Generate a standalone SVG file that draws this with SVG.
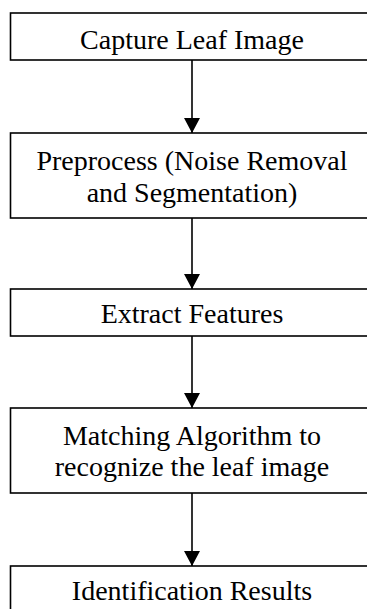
<svg xmlns="http://www.w3.org/2000/svg" width="367" height="609" viewBox="0 0 367 609">
<style>
.box{fill:#fff;stroke:#000;stroke-width:1.6}
.lbl{font-family:"Liberation Serif","Times New Roman",serif;font-size:28px;fill:#000;text-anchor:middle}
.con{stroke:#000;stroke-width:1.6;fill:none}
</style>
<defs>
<marker id="ah" markerUnits="userSpaceOnUse" markerWidth="16" markerHeight="18" refX="15" refY="8" orient="auto" viewBox="0 0 16 16">
<path d="M0,0 L15,8 L0,16 Z" fill="#000"/>
</marker>
</defs>
<g id="connectors">
<line class="con" x1="192" y1="60" x2="192" y2="133" marker-end="url(#ah)"/>
<line class="con" x1="192" y1="218" x2="192" y2="289" marker-end="url(#ah)"/>
<line class="con" x1="192" y1="336" x2="192" y2="408" marker-end="url(#ah)"/>
<line class="con" x1="192" y1="493" x2="192" y2="566" marker-end="url(#ah)"/>
</g>
<g id="n1">
<rect class="box" x="10.5" y="13" width="364" height="47"/>
<text class="lbl" x="192" y="49">Capture Leaf Image</text>
</g>
<g id="n2">
<rect class="box" x="10.5" y="133" width="364" height="85"/>
<text class="lbl" x="192" y="170">Preprocess (Noise Removal</text>
<text class="lbl" x="192" y="202">and Segmentation)</text>
</g>
<g id="n3">
<rect class="box" x="10.5" y="289" width="364" height="47"/>
<text class="lbl" x="192" y="323">Extract Features</text>
</g>
<g id="n4">
<rect class="box" x="10.5" y="408" width="364" height="85"/>
<text class="lbl" x="192" y="445">Matching Algorithm to</text>
<text class="lbl" x="192" y="476">recognize the leaf image</text>
</g>
<g id="n5">
<rect class="box" x="10.5" y="566" width="364" height="60"/>
<text class="lbl" x="192" y="600">Identification Results</text>
</g>
</svg>
